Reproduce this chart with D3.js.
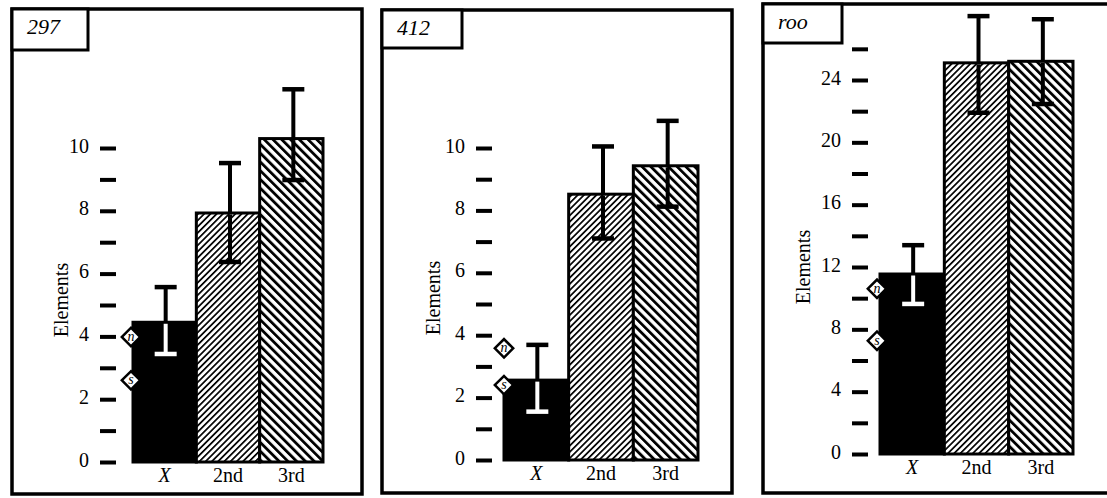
<!DOCTYPE html>
<html>
<head>
<meta charset="utf-8">
<script src="https://cdn.jsdelivr.net/npm/d3@7"></script>
<style>
  body { margin: 0; background: #fff; }
  svg { display: block; font-family: 'Liberation Serif', 'DejaVu Serif', serif; }
</style>
</head>
<body>
<svg id="chart" width="1107" height="498"></svg>
<script>
// data
const panelTitles = ['297', '412', 'roo']
const categories = ['X', '2nd', '3rd']
const means = [[4.45, 7.93, 10.3], [2.56, 8.52, 9.43], [11.55, 25.1, 25.2]]
const upper = [[5.57, 9.52, 11.87], [3.69, 10.05, 10.87], [13.4, 28.1, 27.9]]
const lower = [[3.44, 6.37, 8.98], [1.55, 7.1, 8.12], [9.63, 21.9, 22.46]]
const nMarks = [3.98, 3.58, 10.6]
const sMarks = [2.6, 2.4, 7.27]
const yTickMax = [10, 10, 26]
const yTickStep = [1, 1, 2]
const yLabelStep = [2, 2, 4]

// layout of each panel (pixels)
let layout = [
  { frame: [12, 9, 350, 485], title: [12, 9, 76, 41], tickX: 100, x: [133, 323], y: [462, 148], yTop: 10, labelX: 68, labelY: 300, diaX: 131 },
  { frame: [382, 10, 350, 483], title: [382, 10, 80, 38], tickX: 476, x: [504, 698], y: [460, 148], yTop: 10, labelX: 440, labelY: 298, diaX: 504 },
  { frame: [763, 4, 360, 489], title: [763, 4, 79, 39], tickX: 852, x: [880, 1073], y: [454, 80], yTop: 24, labelX: 810, labelY: 267, diaX: 877 }
]

const svg = d3.select('#chart')
const defs = svg.append('defs')

// fine "/" hatch for 2nd, coarse "\" hatch for 3rd
let fine = defs.append('pattern').attr('id', 'fine')
  .attr('patternUnits', 'userSpaceOnUse').attr('width', 4.4).attr('height', 4.4)
  .attr('patternTransform', 'rotate(45)')
fine.append('rect').attr('width', 4.4).attr('height', 4.4).attr('fill', '#fff')
fine.append('rect').attr('width', 1.7).attr('height', 4.4).attr('fill', '#000')

let coarse = defs.append('pattern').attr('id', 'coarse')
  .attr('patternUnits', 'userSpaceOnUse').attr('width', 6.2).attr('height', 6.2)
  .attr('patternTransform', 'rotate(-45)')
coarse.append('rect').attr('width', 6.2).attr('height', 6.2).attr('fill', '#fff')
coarse.append('rect').attr('width', 2.8).attr('height', 6.2).attr('fill', '#000')

const fills = ['#000', 'url(#fine)', 'url(#coarse)']

let drawPanel = (i) => {
  let L = layout[i]
  let g = svg.append('g')

  let x = d3.scaleBand().domain(categories).range(L.x).padding(0)
  let y = d3.scaleLinear().domain([0, L.yTop]).range(L.y)

  // frame and title box
  g.append('rect')
    .attr('x', L.frame[0]).attr('y', L.frame[1])
    .attr('width', L.frame[2]).attr('height', L.frame[3])
    .attr('fill', 'none').attr('stroke', '#000').attr('stroke-width', 3.5)
  g.append('rect')
    .attr('x', L.title[0]).attr('y', L.title[1])
    .attr('width', L.title[2]).attr('height', L.title[3])
    .attr('fill', '#fff').attr('stroke', '#000').attr('stroke-width', 3)
  g.append('text')
    .attr('x', L.title[0] + 15).attr('y', L.title[1] + 25)
    .attr('font-style', 'italic').attr('font-size', 22)
    .text(panelTitles[i])

  // y axis: short thick dashes, labels on even steps
  let ticks = d3.range(0, yTickMax[i] + 0.001, yTickStep[i])
  let axis = d3.axisLeft(y)
    .tickValues(ticks)
    .tickSize(0)
    .tickPadding(11)
    .tickFormat(d => d % yLabelStep[i] === 0 ? d : '')
  let ax = g.append('g').attr('transform', `translate(${L.tickX},0)`).call(axis)
  ax.attr('font-size', null).attr('font-family', null)
  ax.select('.domain').remove()
  ax.selectAll('.tick line').remove()
  ax.selectAll('.tick').append('line')
    .attr('x1', 0).attr('x2', 16)
    .attr('stroke', '#000').attr('stroke-width', 4)
  ax.selectAll('.tick text')
    .attr('dy', '0.2em')
    .style('font-size', '20px').attr('fill', '#000')

  g.append('text')
    .attr('transform', `translate(${L.labelX},${L.labelY}) rotate(-90)`)
    .attr('text-anchor', 'middle').style('font-size', '20px')
    .text('Elements')

  // bars
  g.selectAll('rect.bar')
    .data(categories)
    .enter()
    .append('rect')
    .attr('class', 'bar')
    .attr('x', d => x(d))
    .attr('y', (d, j) => y(means[i][j]))
    .attr('width', x.bandwidth())
    .attr('height', (d, j) => y(0) - y(means[i][j]))
    .attr('fill', (d, j) => fills[j])
    .attr('stroke', '#000').attr('stroke-width', 3)

  // error bars: white where they sit inside the black bar
  categories.forEach((c, j) => {
    let cx = x(c) + x.bandwidth() / 2 + (j === 0 ? 1 : 2)
    let top = y(upper[i][j])
    let bot = y(lower[i][j])
    let barTop = y(means[i][j])
    let inside = j === 0 ? '#fff' : '#000'
    g.append('line').attr('x1', cx).attr('x2', cx).attr('y1', top).attr('y2', barTop)
      .attr('stroke', '#000').attr('stroke-width', 4)
    g.append('line').attr('x1', cx).attr('x2', cx).attr('y1', barTop + 1.5).attr('y2', bot)
      .attr('stroke', inside).attr('stroke-width', 4)
    g.append('line').attr('x1', cx - 11).attr('x2', cx + 11).attr('y1', top).attr('y2', top)
      .attr('stroke', '#000').attr('stroke-width', 4.5)
    g.append('line').attr('x1', cx - 11).attr('x2', cx + 11).attr('y1', bot).attr('y2', bot)
      .attr('stroke', inside).attr('stroke-width', 4.5)
  })

  // n and s diamonds
  let marks = [['n', nMarks[i]], ['s', sMarks[i]]]
  let dg = g.selectAll('g.dia')
    .data(marks)
    .enter()
    .append('g')
    .attr('class', 'dia')
    .attr('transform', d => `translate(${L.diaX},${y(d[1])})`)
  dg.append('rect')
    .attr('x', -6.5).attr('y', -6.5).attr('width', 13).attr('height', 13)
    .attr('transform', 'rotate(45)')
    .attr('fill', '#fff').attr('stroke', '#000').attr('stroke-width', 2.5)
  dg.append('text')
    .attr('text-anchor', 'middle').attr('y', 4)
    .attr('font-style', 'italic').style('font-size', '14px')
    .text(d => d[0])

  // category labels
  g.selectAll('text.cat')
    .data(categories)
    .enter()
    .append('text')
    .attr('class', 'cat')
    .attr('x', d => x(d) + x.bandwidth() / 2)
    .attr('y', y(0) + 20)
    .attr('text-anchor', 'middle')
    .style('font-size', '20px')
    .attr('font-style', d => d === 'X' ? 'italic' : 'normal')
    .text(d => d)
}

panelTitles.forEach((t, i) => drawPanel(i))
</script>
</body>
</html>
